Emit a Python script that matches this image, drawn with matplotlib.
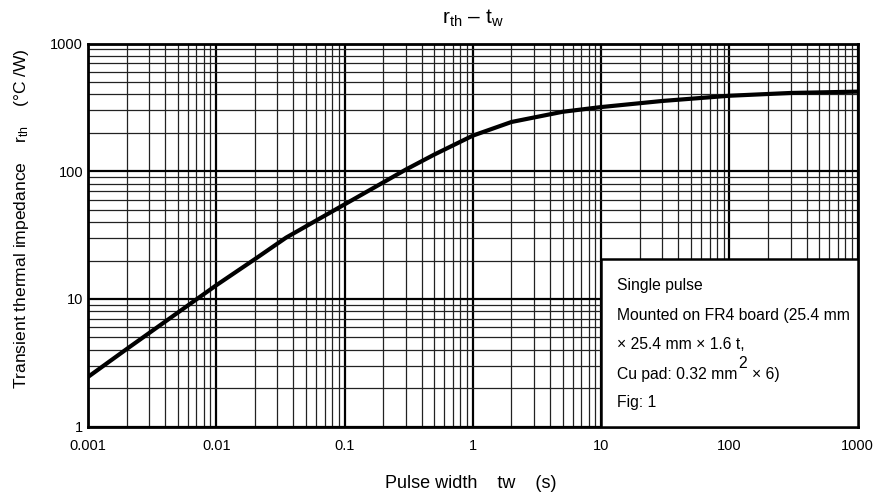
import numpy as np
import matplotlib
matplotlib.use("Agg")
from matplotlib import pyplot as plt
from matplotlib.ticker import LogLocator, FixedLocator, FixedFormatter, NullFormatter

plt.rcParams['font.family'] = ['Liberation Sans', 'DejaVu Sans']
plt.rcParams['mathtext.fontset'] = 'custom'
plt.rcParams['mathtext.rm'] = 'Liberation Sans'
plt.rcParams['mathtext.it'] = 'Liberation Sans'

# pulse width (s) vs transient thermal impedance (degC/W)
tw = [0.001, 0.002, 0.005, 0.01, 0.02, 0.035, 0.1, 0.3, 0.5, 1, 2, 5, 10, 30, 100, 300, 1000]
rth = [2.45, 4.05, 7.8, 12.8, 20.5, 30.2, 55, 103, 135, 190, 243, 292, 318, 355, 390, 410, 420]

xticks = [0.001, 0.01, 0.1, 1, 10, 100, 1000]
xlabels = ['0.001', '0.01', '0.1', '1', '10', '100', '1000']
yticks = [1, 10, 100, 1000]
ylabels = ['1', '10', '100', '1000']

note_lines = ['Single pulse', 'Mounted on FR4 board (25.4 mm',
              '\u00d7 25.4 mm \u00d7 1.6 t,', None, 'Fig: 1']

fig = plt.figure(figsize=(8.77, 4.99), dpi=100)
ax = fig.add_axes([0.1003, 0.1449, 0.8777, 0.7679])

ax.set_xscale('log')
ax.set_yscale('log')
ax.set_xlim(0.001, 1000)
ax.set_ylim(1, 1000)

ax.xaxis.set_major_locator(FixedLocator(xticks))
ax.xaxis.set_major_formatter(FixedFormatter(xlabels))
ax.yaxis.set_major_locator(FixedLocator(yticks))
ax.yaxis.set_major_formatter(FixedFormatter(ylabels))
ax.xaxis.set_minor_locator(LogLocator(base=10, subs=np.arange(2, 10), numticks=20))
ax.yaxis.set_minor_locator(LogLocator(base=10, subs=np.arange(2, 10), numticks=20))
ax.xaxis.set_minor_formatter(NullFormatter())
ax.yaxis.set_minor_formatter(NullFormatter())
ax.tick_params(which='both', length=0, labelsize=10.5, colors='black')
ax.tick_params(axis='x', pad=8.5)
ax.tick_params(axis='y', pad=3.5)

ax.grid(which='major', color='black', lw=1.6)
ax.grid(which='minor', color='#222222', lw=0.9)
ax.set_axisbelow(True)
for s in ax.spines.values():
    s.set_linewidth(2)

ax.plot(tw, rth, color='black', lw=3, solid_capstyle='butt', zorder=3)

# note box in the lower right corner
ax.fill_between([10, 1000], 1, 20.4, facecolor='white', edgecolor='black', lw=1.8, zorder=4)
tx = fig.add_axes(ax.get_position(), frameon=False)
tx.set_xticks([]); tx.set_yticks([])
x0 = (616.7 - 88) / (857.7 - 88)
rows = [285.7, 315.0, 345.0, 375.0, 402.7]
for line, yp in zip(note_lines, rows):
    yf = (426.7 - yp) / (426.7 - 43.5)
    if line is None:
        t = tx.text(x0, yf, 'Cu pad: 0.32 mm', fontsize=11.3, va='center', ha='left', zorder=5)
        tx.annotate('2', xy=(1, 1), xycoords=t, xytext=(0.5, -2.5), textcoords='offset points',
                    fontsize=11.3, va='bottom', ha='left', zorder=5)
        tx.annotate('\u00d7 6)', xy=(1, 0), xycoords=t, xytext=(10.5, 0), textcoords='offset points',
                    fontsize=11.3, va='bottom', ha='left', zorder=5)
    else:
        tx.text(x0, yf, line, fontsize=11.3, va='center', ha='left', zorder=5)

fig.text(472.5 / 877, 1 - 18 / 499, 'r$_{\\rm th}$ \u2013 t$_{\\rm w}$',
         ha='center', va='center', fontsize=15)
fig.text(471 / 877, 1 - 484 / 499, 'Pulse width    tw    (s)', ha='center', va='center', fontsize=13)
fig.text(22 / 877, 1 - 219 / 499, 'Transient thermal impedance    r$_{\\rm th}$    (°C /W)',
         ha='center', va='center', rotation=90, fontsize=12.6)

fig.savefig('out.png', dpi=100)
